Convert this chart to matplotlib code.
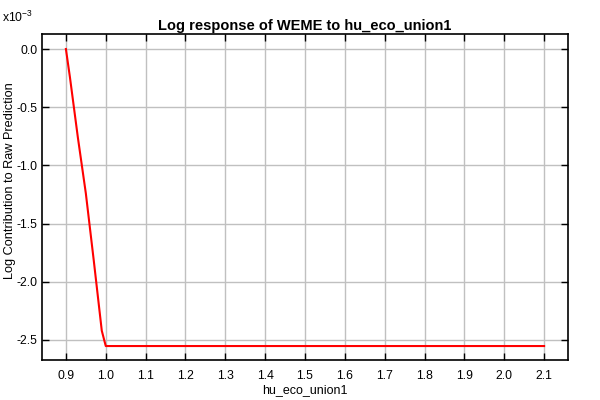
import matplotlib
matplotlib.use("Agg")
import matplotlib.pyplot as plt

# values (y in units of 1e-3)
x_vals = [0.90, 0.91, 0.92, 0.93, 0.94, 0.95, 0.96, 0.97, 0.98, 0.99, 1.00,
          1.10, 1.20, 1.30, 1.40, 1.50, 1.60, 1.70, 1.80, 1.90, 2.00, 2.10]
y_vals = [0.00, -0.24, -0.50, -0.76, -1.00, -1.24, -1.53, -1.82, -2.12, -2.42, -2.552,
          -2.552, -2.552, -2.552, -2.552, -2.552, -2.552, -2.552, -2.552, -2.552, -2.552, -2.552]
x_ticks = [0.9, 1.0, 1.1, 1.2, 1.3, 1.4, 1.5, 1.6, 1.7, 1.8, 1.9, 2.0, 2.1]
y_ticks = [0.0, -0.5, -1.0, -1.5, -2.0, -2.5]

plt.rcParams["font.family"] = ["Liberation Sans", "DejaVu Sans"]

fig = plt.figure(figsize=(6, 4), dpi=100)
ax = fig.add_axes([42 / 600, 1 - 360 / 400, (568 - 42) / 600, (360 - 34) / 400])

ax.plot(x_vals, y_vals, color="#ff0000", linewidth=1.5, zorder=3)

ax.set_xlim(0.84, 2.16)
ax.set_ylim(-2.672, 0.129)
ax.set_xticks(x_ticks)
ax.set_xticklabels([f"{t:.1f}" for t in x_ticks])
ax.set_yticks(y_ticks)
ax.set_yticklabels([f"{t:.1f}" for t in y_ticks])
ax.grid(True, color="#c0c0c0", linewidth=1.0)
ax.set_axisbelow(True)
ax.tick_params(direction="in", top=True, right=True, length=5, width=1,
               labelsize=8.8, colors="black")
ax.tick_params(axis="x", pad=7)
for sp in ax.spines.values():
    sp.set_linewidth(1.2)

ax.set_title("Log response of WEME to hu_eco_union1", fontsize=10.5,
             fontweight="bold", pad=3)
ax.set_xlabel("hu_eco_union1", fontsize=9, labelpad=2)
fig.text(10 / 600, 1 - 181 / 400, "Log Contribution to Raw Prediction",
         fontsize=9.2, rotation=90, ha="center", va="center")
fig.text(2 / 600, 1 - 22 / 400, r"x10$^{\mathregular{-3}}$", fontsize=8.8,
         ha="left", va="baseline")

fig.savefig("out.png", dpi=100)
